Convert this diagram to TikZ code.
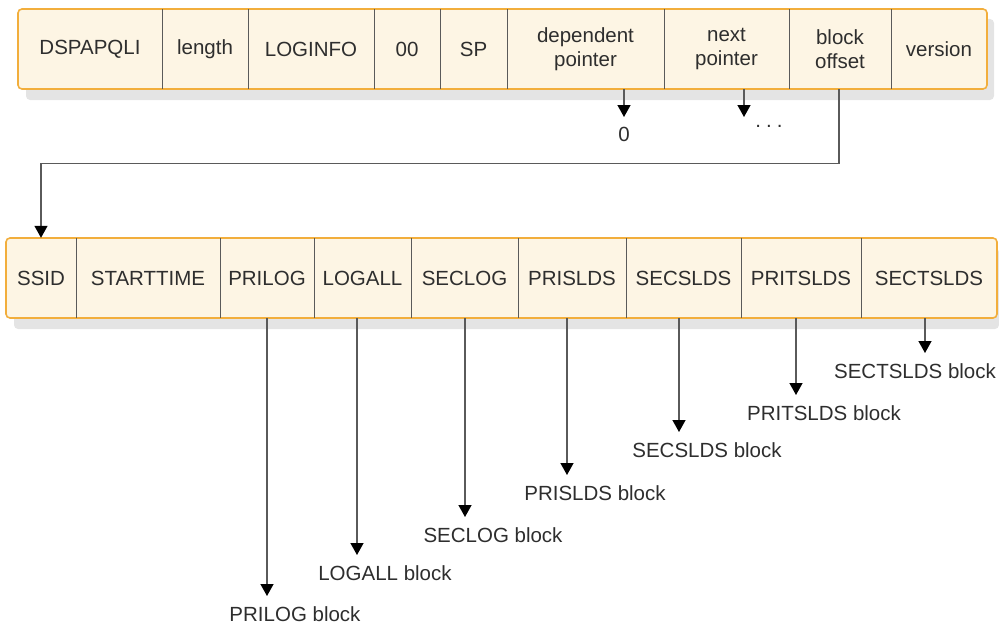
\documentclass[tikz,border=0pt]{standalone}
\usepackage{fontspec}
\setmainfont{Liberation Sans}
\usetikzlibrary{arrows.meta,calc}
\definecolor{cream}{HTML}{FDF5E4}
\definecolor{boxline}{HTML}{F2AE3C}
\definecolor{shadowc}{HTML}{E4E4E4}
\definecolor{txt}{HTML}{2E2E2E}
\definecolor{lnc}{HTML}{5A5A5A}
\begin{document}
\begin{tikzpicture}[x=1pt,y=-1pt,
  cell/.style={minimum height=80pt, inner sep=0pt, text=txt,
    font=\fontsize{20.5}{24}\selectfont, align=center},
  lbl/.style={inner xsep=0pt, inner ysep=10pt, anchor=north, text=txt,
    font=\fontsize{20.5}{24}\selectfont},
  arr/.style={draw=lnc, line width=1.4pt,
    -{Triangle[width=13pt,length=12pt,black]}},
  divider/.style={draw=lnc, line width=1pt},
  recbox/.style={draw=boxline, fill=cream, line width=1.6pt, rounded corners=4pt},
  shadow/.style={fill=shadowc, rounded corners=4pt}]
\useasboundingbox (0,0) rectangle (999,626);

% shadows
\fill[shadow] (26,19) rectangle (994,100);
\fill[shadow] (14,248) rectangle (999,329);

% top record
\draw[recbox] (18,9) rectangle (987,89);
\node[cell, minimum width=144pt] (t1) at (90,49) {DSPAPQLI};
\node[cell, minimum width=86pt]  (t2) at (205,49) {length};
\node[cell, minimum width=126pt] (t3) at (311,49) {LOGINFO};
\node[cell, minimum width=66pt]  (t4) at (407,49) {00};
\node[cell, minimum width=67pt]  (t5) at (473.5,49) {SP};
\node[cell, minimum width=157pt] (t6) at (585.5,49) {dependent\\pointer};
\node[cell, minimum width=125pt] (t7) at (726.5,49) {next\\pointer};
\node[cell, minimum width=102pt] (t8) at (840,49) {block\\offset};
\node[cell, minimum width=96pt]  (t9) at (939,49) {version};
\foreach \c in {t1,t2,t3,t4,t5,t6,t7,t8}
  \draw[divider] (\c.north east) -- (\c.south east);

% bottom record
\draw[recbox] (6,238) rectangle (997,318);
\node[cell, minimum width=70pt]  (b1) at (41,278) {SSID};
\node[cell, minimum width=144pt] (b2) at (148,278) {STARTTIME};
\node[cell, minimum width=94pt]  (b3) at (267,278) {PRILOG};
\node[cell, minimum width=97pt]  (b4) at (362.5,278) {LOGALL};
\node[cell, minimum width=107pt] (b5) at (464.5,278) {SECLOG};
\node[cell, minimum width=108pt] (b6) at (572,278) {PRISLDS};
\node[cell, minimum width=115pt] (b7) at (683.5,278) {SECSLDS};
\node[cell, minimum width=120pt] (b8) at (801,278) {PRITSLDS};
\node[cell, minimum width=136pt] (b9) at (929,278) {SECTSLDS};
\foreach \c in {b1,b2,b3,b4,b5,b6,b7,b8}
  \draw[divider] (\c.north east) -- (\c.south east);

% pointers of top record
\node[lbl] (zero) at (624,117) {0};
\draw[arr] ([xshift=38.5pt]t6.south) -- (zero.north);
\coordinate (nexttip) at (744,117);
\node[text=txt, font=\fontsize{20.5}{24}\selectfont, inner sep=0pt] (dots) at (769,126) {.\hspace{0.25em}.\hspace{0.25em}.};
\draw[arr] ([xshift=17.5pt]t7.south) -- (nexttip);
\draw[arr] ([xshift=-1pt]t8.south) -- ++(0,74) -| (b1.north);

% block labels
\node[lbl] (l3) at (295,596) {PRILOG block};
\node[lbl] (l4) at (385,555) {LOGALL block};
\node[lbl] (l5) at (493,517) {SECLOG block};
\node[lbl] (l6) at (595,475) {PRISLDS block};
\node[lbl] (l7) at (707,432) {SECSLDS block};
\node[lbl] (l8) at (824,395) {PRITSLDS block};
\node[lbl] (l9) at (915,353) {SECTSLDS block};

\draw[arr] (b3.south) -- (b3.south |- l3.north);
\draw[arr] ([xshift=-5.5pt]b4.south) -- ([xshift=-5.5pt]b4.south |- l4.north);
\draw[arr] ([xshift=0.5pt]b5.south) -- ([xshift=0.5pt]b5.south |- l5.north);
\draw[arr] ([xshift=-5pt]b6.south) -- ([xshift=-5pt]b6.south |- l6.north);
\draw[arr] ([xshift=-4.5pt]b7.south) -- ([xshift=-4.5pt]b7.south |- l7.north);
\draw[arr] ([xshift=-5pt]b8.south) -- ([xshift=-5pt]b8.south |- l8.north);
\draw[arr] ([xshift=-4pt]b9.south) -- ([xshift=-4pt]b9.south |- l9.north);
\end{tikzpicture}
\end{document}
